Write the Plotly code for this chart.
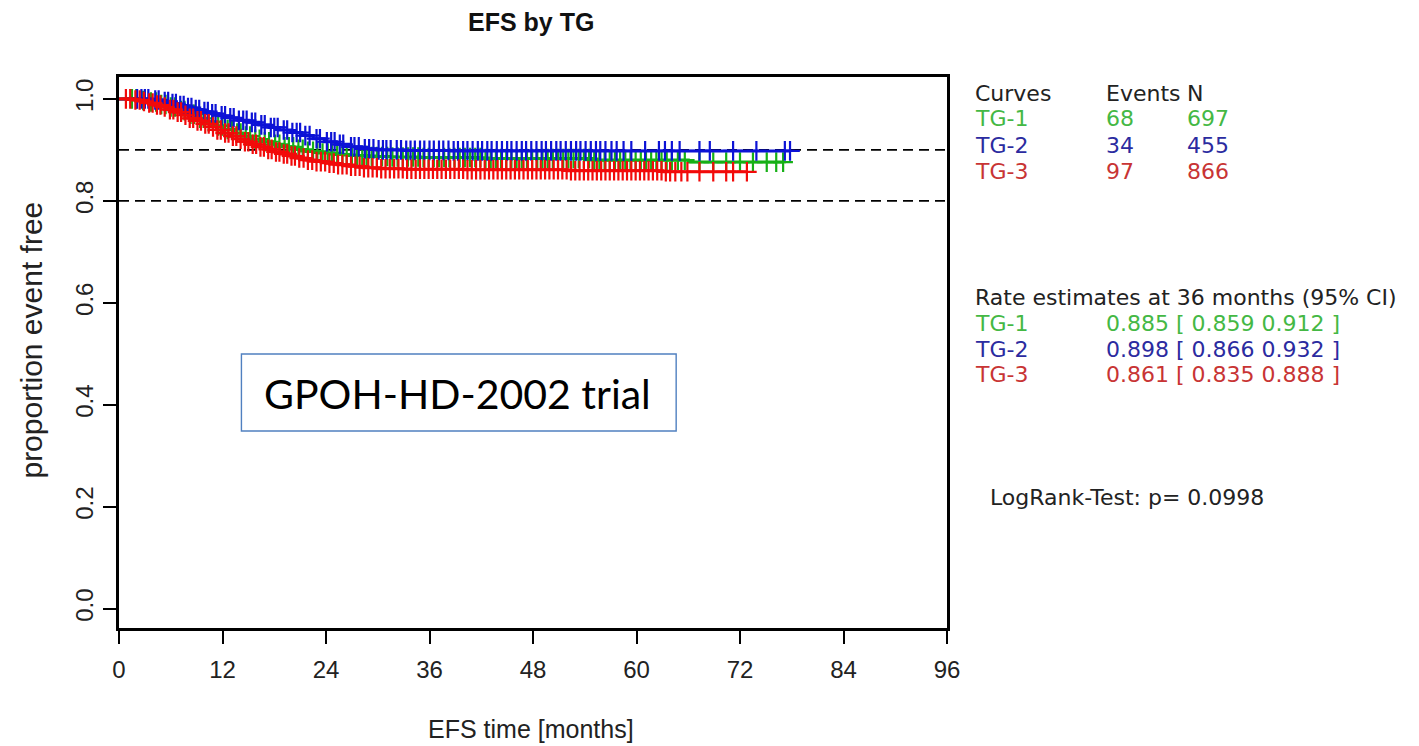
import numpy as np
import plotly.graph_objects as go

# ---------------- data ----------------
groups = ["TG-1", "TG-2", "TG-3"]
events = [68, 34, 97]
n_pat = [697, 455, 866]
rate36 = ["0.885 [ 0.859 0.912 ]", "0.898 [ 0.866 0.932 ]", "0.861 [ 0.835 0.888 ]"]
logrank_p = "0.0998"

x_ticks = [0, 12, 24, 36, 48, 60, 72, 84, 96]
y_ticks = [0.0, 0.2, 0.4, 0.6, 0.8, 1.0]
y_ticklabels = ["0.0", "0.2", "0.4", "0.6", "0.8", "1.0"]
ref_lines = [0.9, 0.8]

# Kaplan-Meier step data (time in months, survival)
tg1_time = [0, 2.2, 3.4, 4.5, 5.6, 6.7, 7.8, 8.9, 10.0, 11.1, 12.2, 13.3, 14.4, 15.5, 16.6,
            17.8, 19.0, 20.3, 21.7, 23.2, 24.8, 26.6, 28.8, 31.5, 35.0, 42.0, 55.0, 66.0]
tg1_surv = [1.0, 0.997, 0.994, 0.989, 0.984, 0.977, 0.970, 0.962, 0.955, 0.947, 0.940, 0.933,
            0.927, 0.921, 0.916, 0.911, 0.906, 0.901, 0.897, 0.894, 0.891, 0.889, 0.887, 0.886,
            0.885, 0.883, 0.880, 0.876]
tg2_time = [0, 3.8, 5.0, 5.9, 6.8, 7.7, 8.6, 9.6, 10.6, 11.6, 12.7, 13.8, 15.0, 16.2, 17.4,
            18.6, 19.9, 21.2, 22.5, 23.8, 25.2, 26.6, 28.1, 29.8, 33.0, 38.5]
tg2_surv = [1.0, 0.998, 0.995, 0.991, 0.987, 0.983, 0.979, 0.975, 0.971, 0.967, 0.963, 0.958,
            0.954, 0.949, 0.944, 0.939, 0.934, 0.928, 0.922, 0.916, 0.911, 0.906, 0.902, 0.900,
            0.899, 0.898]
tg3_time = [0, 1.6, 2.5, 3.3, 4.1, 4.9, 5.7, 6.5, 7.3, 8.1, 8.9, 9.7, 10.5, 11.3, 12.1, 12.9,
            13.7, 14.5, 15.3, 16.1, 17.0, 17.9, 18.8, 19.7, 20.7, 21.7, 22.8, 24.0, 25.3, 26.7,
            28.3, 30.2, 33.0, 40.0, 52.0, 63.0]
tg3_surv = [1.0, 0.998, 0.995, 0.992, 0.988, 0.984, 0.979, 0.974, 0.968, 0.962, 0.957, 0.951,
            0.945, 0.939, 0.933, 0.927, 0.921, 0.916, 0.911, 0.906, 0.901, 0.896, 0.892, 0.888,
            0.884, 0.880, 0.877, 0.874, 0.871, 0.868, 0.865, 0.863, 0.862, 0.861, 0.859, 0.857]

# censoring times (months)
tg1_cens = [1.5, 2.0, 2.8, 3.7, 4.3, 4.9, 5.4, 6.0, 6.5, 7.2, 7.6, 8.3, 8.7, 9.4, 9.8, 10.4,
            10.9, 11.5, 12.0, 12.6, 13.1, 13.7, 14.1, 14.7, 15.2, 15.8, 16.3, 16.9, 17.4, 18.1,
            18.6, 19.2, 19.7, 20.2, 20.8, 21.3, 21.9, 22.5, 23.0, 23.6, 24.2, 24.7, 25.3, 25.9,
            26.4, 27.0, 27.6, 28.2, 28.7, 29.3, 29.9, 30.5, 31.1, 31.7, 32.3, 32.9, 33.5, 34.1,
            34.7, 35.3, 35.9, 36.5, 37.1, 37.7, 38.3, 38.9, 39.5, 40.1, 40.7, 41.3, 41.9, 42.5,
            43.1, 43.7, 44.3, 44.9, 45.5, 46.1, 46.7, 47.3, 47.9, 48.5, 49.1, 49.7, 50.3, 50.9,
            51.5, 52.1, 52.7, 53.3, 53.9, 54.5, 55.1, 55.7, 56.3, 56.9, 57.5, 58.1, 58.7, 59.3,
            59.9, 60.5, 61.1, 61.7, 62.3, 62.9, 63.5, 64.1, 64.8, 65.6, 67.3, 68.9, 70.4, 72.0,
            73.5, 75.1, 76.2, 77.0]
tg2_cens = [2.1, 2.6, 3.0, 3.4, 4.2, 4.6, 5.3, 5.7, 6.2, 6.6, 7.1, 7.5, 8.0, 8.4, 8.9, 9.3,
            9.9, 10.3, 10.8, 11.2, 11.9, 12.3, 12.9, 13.3, 13.9, 14.4, 14.8, 15.4, 15.8, 16.5,
            16.9, 17.6, 18.0, 18.4, 19.1, 19.5, 20.1, 20.6, 21.0, 21.6, 22.1, 22.9, 23.3, 24.1,
            24.6, 25.0, 25.6, 26.0, 26.9, 27.3, 27.8, 28.5, 29.0, 29.5, 30.1, 30.6, 31.0, 31.5,
            32.2, 32.7, 33.3, 33.8, 34.3, 34.9, 35.4, 36.0, 36.5, 37.1, 37.6, 38.2, 38.8, 39.3,
            39.9, 40.4, 41.0, 41.6, 42.1, 42.7, 43.2, 43.8, 44.4, 45.0, 45.5, 46.1, 46.7, 47.2,
            47.8, 48.4, 49.0, 49.5, 50.1, 50.7, 51.2, 51.8, 52.4, 53.0, 53.5, 54.1, 54.7, 55.3,
            55.8, 56.4, 57.1, 57.7, 58.5, 59.4, 61.0, 62.6, 63.3, 64.1, 65.0, 67.3, 68.5, 71.2,
            73.9, 77.2, 77.8]
tg3_cens = [0.8, 1.3, 1.9, 2.4, 2.9, 3.5, 3.9, 4.4, 4.8, 5.3, 5.9, 6.3, 6.8, 7.2, 7.7, 8.2,
            8.6, 9.1, 9.5, 10.0, 10.4, 10.9, 11.4, 11.8, 12.3, 12.7, 13.2, 13.6, 14.1, 14.6,
            15.0, 15.5, 15.9, 16.4, 16.8, 17.3, 17.7, 18.2, 18.6, 19.1, 19.5, 20.0, 20.4, 20.9,
            21.4, 21.9, 22.4, 22.9, 23.4, 23.9, 24.4, 24.9, 25.4, 25.9, 26.4, 26.9, 27.4, 27.9,
            28.4, 28.9, 29.4, 29.9, 30.4, 30.9, 31.4, 31.9, 32.4, 32.9, 33.4, 33.9, 34.4, 34.9,
            35.4, 35.9, 36.4, 36.9, 37.4, 37.9, 38.4, 38.9, 39.4, 39.9, 40.4, 40.9, 41.4, 41.9,
            42.4, 42.9, 43.4, 43.9, 44.4, 44.9, 45.4, 45.9, 46.4, 46.9, 47.4, 47.9, 48.4, 48.9,
            49.4, 49.9, 50.4, 50.9, 51.4, 51.9, 52.4, 52.9, 53.4, 53.9, 54.4, 54.9, 55.4, 55.9,
            56.4, 56.9, 57.4, 57.9, 58.4, 58.9, 59.4, 59.9, 60.4, 60.9, 61.4, 61.9, 62.4, 62.9,
            63.4, 63.9, 64.5, 65.2, 65.9, 67.3, 68.9, 70.4, 71.2, 72.8]

# ---------------- styling ----------------
curve_colors = ["#16b016", "#0c12d6", "#f20a0a"]
text_colors = ["#44b844", "#2b2ba0", "#c83434"]
FONT = "Liberation Sans, Arial, sans-serif"
LEG_FONT = "DejaVu Sans, sans-serif"
LEG_SIZE = 22

# plot area in pixels
W_PX, H_PX = 1419, 746
L, R, T, B = 118.5, 947, 77, 628


def px_x(p):
    return (p - L) / (R - L)


def px_y(p):
    return (B - p) / (B - T)


fig = go.Figure()

series = [(tg1_time, tg1_surv, tg1_cens), (tg2_time, tg2_surv, tg2_cens), (tg3_time, tg3_surv, tg3_cens)]
for (t, s, c), col, name in zip(series, curve_colors, groups):
    t_arr = np.array(t, dtype=float)
    s_arr = np.array(s, dtype=float)
    c_arr = np.array(c, dtype=float)
    end_t = max(c_arr.max(), t_arr.max())
    xs = np.append(t_arr, end_t)
    ys = np.append(s_arr, s_arr[-1])
    fig.add_trace(go.Scatter(x=xs, y=ys, mode="lines", line=dict(color=col, width=3, shape="hv"),
                             name=name, showlegend=False, hoverinfo="skip"))
    idx = np.searchsorted(t_arr, c_arr, side="right") - 1
    fig.add_trace(go.Scatter(x=c_arr, y=s_arr[idx], mode="markers",
                             marker=dict(symbol="cross-thin", size=14, color=col,
                                         line=dict(color=col, width=2.2)),
                             showlegend=False, hoverinfo="skip"))

# reference dashed lines
for v in ref_lines:
    fig.add_shape(type="line", xref="x", yref="y", x0=0, x1=96, y0=v, y1=v,
                  line=dict(color="black", width=1.6, dash="10px,6px"), layer="below")

# trial box
fig.add_shape(type="rect", xref="paper", yref="paper",
              x0=px_x(241), x1=px_x(676), y0=px_y(431), y1=px_y(354),
              line=dict(color="#5080c0", width=1.4), fillcolor="white", layer="above")

ann = []
ann.append(dict(text="GPOH-HD-2002 trial", x=px_x(457), y=px_y(393), xanchor="center", yanchor="middle",
                font=dict(family="Lato, Open Sans, sans-serif", size=41, color="black")))

# title and axis titles
ann.append(dict(text="<b>EFS by TG</b>", x=px_x(531), y=px_y(22), xanchor="center", yanchor="middle",
                font=dict(family=FONT, size=25, color="#111")))
ann.append(dict(text="EFS time [months]", x=px_x(531), y=px_y(729), xanchor="center", yanchor="middle",
                font=dict(family=FONT, size=25, color="#222")))
ann.append(dict(text="proportion event free", x=px_x(30), y=px_y(340), xanchor="center", yanchor="middle",
                textangle=-90, font=dict(family=FONT, size=30, color="#222")))

# legend table
col_x = [973, 1104, 1185]
hdr = ["Curves", "Events", "N"]
for h, cx in zip(hdr, col_x):
    ann.append(dict(text=h, x=px_x(cx), y=px_y(93), xanchor="left", yanchor="middle",
                    font=dict(family=LEG_FONT, size=LEG_SIZE, color="#222")))
row_y = [119, 145, 171]
for g, e, n, ry, tc in zip(groups, events, n_pat, row_y, text_colors):
    for txt, cx in zip([g, str(e), str(n)], col_x):
        ann.append(dict(text=txt, x=px_x(cx), y=px_y(ry), xanchor="left", yanchor="middle",
                        font=dict(family=LEG_FONT, size=LEG_SIZE, color=tc)))

ann.append(dict(text="Rate estimates at 36 months (95% CI)", x=px_x(973), y=px_y(297), xanchor="left",
                yanchor="middle", font=dict(family=LEG_FONT, size=LEG_SIZE, color="#222")))
rate_y = [323, 349, 375]
for g, r_txt, ry, tc in zip(groups, rate36, rate_y, text_colors):
    ann.append(dict(text=g, x=px_x(973), y=px_y(ry), xanchor="left", yanchor="middle",
                    font=dict(family=LEG_FONT, size=LEG_SIZE, color=tc)))
    ann.append(dict(text=r_txt, x=px_x(1104), y=px_y(ry), xanchor="left", yanchor="middle",
                    font=dict(family=LEG_FONT, size=LEG_SIZE, color=tc)))

ann.append(dict(text="LogRank-Test: p= " + logrank_p, x=px_x(988), y=px_y(497), xanchor="left",
                yanchor="middle", font=dict(family=LEG_FONT, size=LEG_SIZE, color="#222")))

for a in ann:
    a.update(xref="paper", yref="paper", showarrow=False)

fig.update_layout(
    width=W_PX, height=H_PX,
    margin=dict(l=L, r=W_PX - R, t=T, b=H_PX - B),
    paper_bgcolor="white", plot_bgcolor="white",
    showlegend=False,
    annotations=ann,
    xaxis=dict(range=[0, 96], tickmode="array", tickvals=x_ticks, ticktext=[str(v) for v in x_ticks],
               showgrid=False, zeroline=False, showline=True, mirror=True, linecolor="black",
               linewidth=3, ticks="outside", ticklen=13, tickwidth=2, tickcolor="black",
               ticklabelstandoff=5,
               tickfont=dict(family=FONT, size=24, color="#222")),
    yaxis=dict(range=[-0.038, 1.043], tickmode="array", tickvals=y_ticks, ticktext=y_ticklabels,
               tickangle=-90,
               showgrid=False, zeroline=False, showline=True, mirror=True, linecolor="black",
               linewidth=3, ticks="outside", ticklen=13, tickwidth=2, tickcolor="black",
               tickfont=dict(family=FONT, size=24, color="#222")),
)

fig.write_html("out.html")
